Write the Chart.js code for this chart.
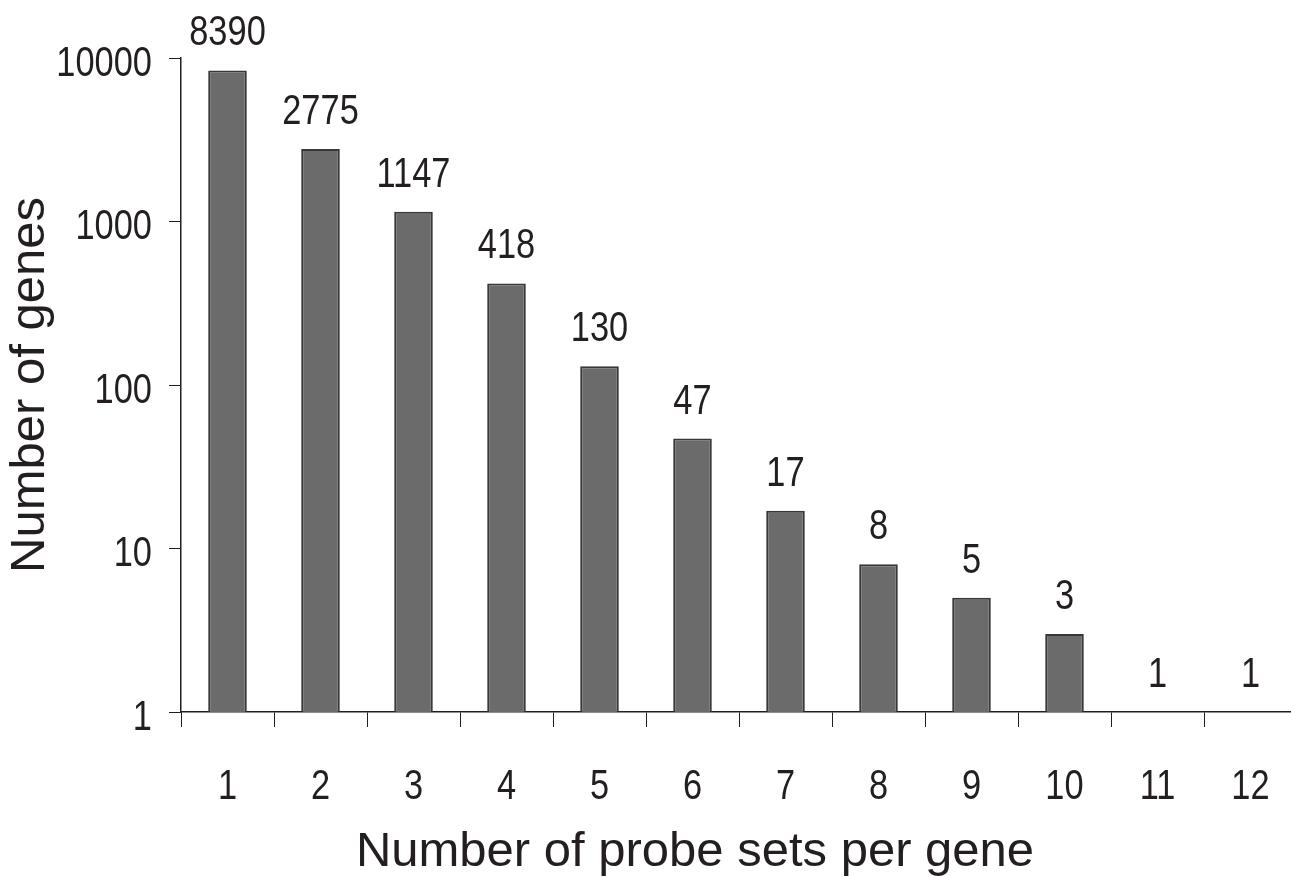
<!DOCTYPE html>
<html>
<head>
<meta charset="utf-8">
<script src="https://cdn.jsdelivr.net/npm/chart.js@4.4.1/dist/chart.umd.min.js"></script>
<style>
  html, body { margin: 0; padding: 0; background: #ffffff; overflow: hidden; }
  #wrap { width: 1291px; height: 877px; overflow: hidden; }
  canvas { display: block; }
</style>
</head>
<body>
<div id="wrap"><canvas id="c" width="1300" height="877"></canvas></div>
<script>
// ---- data ----
const categories = ['1', '2', '3', '4', '5', '6', '7', '8', '9', '10', '11', '12'];
const geneCounts = [8390, 2775, 1147, 418, 130, 47, 17, 8, 5, 3, 1, 1];
const yTickValues = [1, 10, 100, 1000, 10000];
const xTitle = 'Number of probe sets per gene';
const yTitle = 'Number of genes';

const INK = '#231f20';
const REGULAR = "'Liberation Sans', Arial, Helvetica, sans-serif";

// use a Helvetica-like narrow face if installed, otherwise condense Liberation Sans horizontally
function fontAvailable(name) {
  const c = document.createElement('canvas').getContext('2d');
  const s = '10000 abcdefghijklm';
  for (const fb of ['monospace', 'serif']) {
    c.font = '40px ' + fb;
    const w1 = c.measureText(s).width;
    c.font = '40px "' + name + '", ' + fb;
    const w2 = c.measureText(s).width;
    if (Math.abs(w1 - w2) > 0.5) return true;
  }
  return false;
}
const narrowCandidates = ['Liberation Sans Narrow', 'Arial Narrow', 'Nimbus Sans Narrow'];
let NARROW_FAMILY = null;
for (const f of narrowCandidates) { if (fontAvailable(f)) { NARROW_FAMILY = f; break; } }
const MARK = 'SqzMark';
const SQUEEZE = NARROW_FAMILY ? 1 : 0.8;
const NARROW = NARROW_FAMILY ? ("'" + NARROW_FAMILY + "', sans-serif") : ("'Liberation Sans', " + MARK + ", sans-serif");
const NARROW_SIZE = 43;

const canvas = document.getElementById('c');
const ctx0 = canvas.getContext('2d');
const protoFill = CanvasRenderingContext2D.prototype.fillText;
ctx0.fillText = function (text, x, y, maxWidth) {
  if (SQUEEZE !== 1 && this.font.indexOf(MARK) !== -1) {
    this.save();
    this.translate(x, y);
    this.scale(SQUEEZE, 1);
    protoFill.call(this, text, 0, 0);
    this.restore();
  } else if (maxWidth === undefined) {
    protoFill.call(this, text, x, y);
  } else {
    protoFill.call(this, text, x, y, maxWidth);
  }
};

const valueLabels = {
  id: 'valueLabels',
  afterDatasetsDraw(chart) {
    const ctx = chart.ctx;
    const meta = chart.getDatasetMeta(0);
    ctx.save();
    ctx.fillStyle = INK;
    ctx.font = NARROW_SIZE + 'px ' + NARROW;
    ctx.textAlign = 'center';
    ctx.textBaseline = 'alphabetic';
    meta.data.forEach((bar, i) => {
      ctx.fillText(String(geneCounts[i]), bar.x, bar.y - 25);
    });
    ctx.restore();
  }
};

const xTitlePlugin = {
  id: 'xTitlePlugin',
  afterDraw(chart) {
    const ctx = chart.ctx;
    ctx.save();
    ctx.fillStyle = INK;
    ctx.font = '49px ' + REGULAR;
    ctx.textAlign = 'center';
    ctx.textBaseline = 'alphabetic';
    ctx.fillText(xTitle, 695, 866);
    ctx.restore();
  }
};

new Chart(canvas, {
  type: 'bar',
  data: {
    labels: categories,
    datasets: [{
      data: geneCounts,
      backgroundColor: '#6b6b6b',
      borderColor: '#383838',
      borderWidth: 2,
      borderSkipped: 'bottom',
      barPercentage: 0.83,
      categoryPercentage: 0.5
    }]
  },
  options: {
    responsive: false,
    animation: false,
    events: [],
    layout: { padding: { top: 58, right: 3, left: 0, bottom: 0 } },
    plugins: { legend: { display: false }, tooltip: { enabled: false }, title: { display: false } },
    scales: {
      x: {
        type: 'category',
        offset: true,
        grid: { offset: true, drawOnChartArea: false, drawTicks: true, tickLength: 15, color: INK, lineWidth: 1 },
        border: { display: true, color: INK, width: 1.5 },
        ticks: { color: INK, font: { family: NARROW, size: NARROW_SIZE }, padding: 34, maxRotation: 0 },
        afterFit(scale) { scale.height = 165; scale.paddingLeft = 0; scale.paddingRight = 0; }
      },
      y: {
        type: 'logarithmic',
        min: 1,
        max: 10000,
        afterBuildTicks(scale) { scale.ticks = yTickValues.map(v => ({ value: v })); },
        grid: { drawOnChartArea: false, drawTicks: true, tickLength: 12, color: INK, lineWidth: 1 },
        border: { display: true, color: INK, width: 1.5 },
        ticks: {
          color: INK,
          font: { family: NARROW, size: NARROW_SIZE },
          padding: 17,
          labelOffset: 6,
          callback: (v) => String(v)
        },
        title: {
          display: true,
          text: yTitle,
          color: INK,
          font: { family: REGULAR, size: 49 },
          padding: { top: 1, bottom: 0 }
        },
        afterFit(scale) { scale.width = 181; }
      }
    }
  },
  plugins: [valueLabels, xTitlePlugin]
});
</script>
</body>
</html>
